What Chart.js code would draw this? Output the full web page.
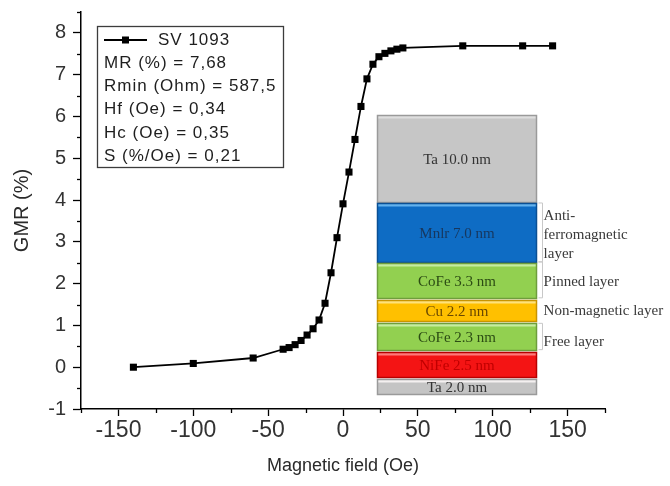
<!DOCTYPE html>
<html>
<head>
<meta charset="utf-8">
<script src="https://cdn.jsdelivr.net/npm/chart.js@4.4.1/dist/chart.umd.min.js"></script>
<style>
  html, body { margin: 0; padding: 0; background: #fff; }
  #wrap { width: 670px; height: 486px; }
</style>
</head>
<body>
<div id="wrap"><canvas id="grafikGMR" width="670" height="486"></canvas></div>
<script>
// data
const medan = [-140, -100, -60, -40, -36, -32, -28, -24, -20, -16, -12, -8, -4, 0, 4, 8, 12, 16, 20, 24, 28, 32, 36, 40, 80, 120, 140];
const gmr = [0.00, 0.09, 0.22, 0.43, 0.47, 0.54, 0.64, 0.77, 0.92, 1.13, 1.53, 2.26, 3.10, 3.91, 4.67, 5.45, 6.24, 6.90, 7.25, 7.43, 7.51, 7.57, 7.61, 7.64, 7.69, 7.69, 7.69];
const namaSeri = "SV 1093";
const statistik = ["MR (%) = 7,68", "Rmin (Ohm) = 587,5", "Hf (Oe) = 0,34", "Hc (Oe) = 0,35", "S (%/Oe) = 0,21"];
const labelX = [-150, -100, -50, 0, 50, 100, 150];
const labelY = [-1, 0, 1, 2, 3, 4, 5, 6, 7, 8];

// lapisan spin valve (gambar sisipan), dari atas ke bawah
const namaLapisan = ["Ta 10.0 nm", "Mnlr 7.0 nm", "CoFe 3.3 nm", "Cu 2.2 nm", "CoFe 2.3 nm", "NiFe 2.5 nm", "Ta 2.0 nm"];
const fungsiLapisan = [["Anti-", "ferromagnetic", "layer"], ["Pinned layer"], ["Non-magnetic layer"], ["Free layer"]];

// posisi sisipan dalam satuan sumbu (Oe, %)
const gayaLapisan = [
  { atas: 6.04, bawah: 3.95, isi: "#c6c6c6", terang: "#dedede", gelap: "#9a9a9a", teks: "#333333" },
  { atas: 3.93, bawah: 2.52, isi: "#0e6cc4", terang: "#63b2ee", gelap: "#0a4f94", teks: "#17375e" },
  { atas: 2.50, bawah: 1.66, isi: "#92d050", terang: "#c6eda0", gelap: "#6e9e3c", teks: "#2c4c14" },
  { atas: 1.62, bawah: 1.10, isi: "#ffc000", terang: "#ffe27a", gelap: "#c89400", teks: "#6a4800" },
  { atas: 1.05, bawah: 0.42, isi: "#92d050", terang: "#c6eda0", gelap: "#6e9e3c", teks: "#2c4c14" },
  { atas: 0.37, bawah: -0.23, isi: "#f41414", terang: "#ff7a7a", gelap: "#b80000", teks: "#c00000" },
  { atas: -0.29, bawah: -0.63, isi: "#c4c4c4", terang: "#f4f0f0", gelap: "#9a9a9a", teks: "#333333" }
];
const posFungsi = [[3.62, 3.17, 2.71], [2.03], [1.34], [0.60]];

// gambar sisipan lapisan
const pluginLapisan = {
  id: "lapisan",
  afterDatasetsDraw(chart) {
    const ctx = chart.ctx;
    const sx = chart.scales.x, sy = chart.scales.y;
    const kiri = Math.round(sx.getPixelForValue(23)) + 0.5;
    const kanan = Math.round(sx.getPixelForValue(128.7)) + 0.5;
    const tengah = (kiri + kanan) / 2;
    ctx.save();
    gayaLapisan.forEach((g, i) => {
      const y1 = Math.round(sy.getPixelForValue(g.atas)) + 0.5;
      const y2 = Math.round(sy.getPixelForValue(g.bawah)) + 0.5;
      ctx.fillStyle = g.isi;
      ctx.fillRect(kiri, y1, kanan - kiri, y2 - y1);
      ctx.fillStyle = g.terang;
      ctx.fillRect(kiri, y1, kanan - kiri, 3);
      ctx.strokeStyle = g.gelap;
      ctx.lineWidth = 1.5;
      ctx.strokeRect(kiri, y1, kanan - kiri, y2 - y1);
      ctx.fillStyle = g.teks;
      ctx.font = "15px 'Liberation Serif'";
      ctx.textAlign = "center";
      ctx.textBaseline = "middle";
      ctx.fillText(namaLapisan[i], tengah, (y1 + y2) / 2 + 1);
    });

    // kurung tipis di kanan tumpukan
    const xk = Math.round(sx.getPixelForValue(132.7)) + 0.5;
    const kurung = [[3.93, 2.52], [2.52, 1.66], [1.05, 0.42]];
    ctx.strokeStyle = "#c8c8c8";
    ctx.lineWidth = 1;
    kurung.forEach(k => {
      const a = sy.getPixelForValue(k[0]), b = sy.getPixelForValue(k[1]);
      ctx.beginPath();
      ctx.moveTo(xk - 4, a); ctx.lineTo(xk, a); ctx.lineTo(xk, b); ctx.lineTo(xk - 4, b);
      ctx.stroke();
    });

    ctx.fillStyle = "#3a3a3a";
    ctx.font = "15px 'Liberation Serif'";
    ctx.textAlign = "left";
    ctx.textBaseline = "middle";
    const xt = sx.getPixelForValue(134);
    fungsiLapisan.forEach((baris, i) => {
      baris.forEach((t, j) => ctx.fillText(t, xt, sy.getPixelForValue(posFungsi[i][j])));
    });
    ctx.restore();
  }
};

// kotak keterangan (legend + statistik)
const pluginKeterangan = {
  id: "keterangan",
  afterDraw(chart) {
    const ctx = chart.ctx;
    const ds = chart.data.datasets[0];
    ctx.save();
    ctx.strokeStyle = "#3c3c3c";
    ctx.lineWidth = 1.3;
    ctx.strokeRect(97.5, 26.5, 186, 141);
    // simbol seri
    ctx.strokeStyle = "#000";
    ctx.lineWidth = 1.8;
    ctx.beginPath();
    ctx.moveTo(104, 40); ctx.lineTo(147, 40);
    ctx.stroke();
    ctx.fillStyle = "#000";
    ctx.fillRect(122, 36.5, 7, 7);
    ctx.fillStyle = "#1e1e1e";
    ctx.font = "17px 'Liberation Sans'";
    ctx.letterSpacing = "1px";
    ctx.textAlign = "left";
    ctx.textBaseline = "middle";
    ctx.fillText(ds.label, 158, 40);
    statistik.forEach((s, i) => ctx.fillText(s, 104, 63 + i * 23.4));
    ctx.restore();
  }
};

// tick minor (lebih pendek)
const pluginTickMinor = {
  id: "tickMinor",
  afterDraw(chart) {
    const ctx = chart.ctx;
    const sx = chart.scales.x, sy = chart.scales.y;
    ctx.save();
    ctx.strokeStyle = "#000";
    ctx.lineWidth = 1.3;
    sx.ticks.forEach(t => {
      if (labelX.includes(t.value)) return;
      const x = Math.round(sx.getPixelForValue(t.value)) + 0.5;
      ctx.beginPath(); ctx.moveTo(x, sy.bottom); ctx.lineTo(x, sy.bottom + 4); ctx.stroke();
    });
    sy.ticks.forEach(t => {
      if (labelY.includes(t.value)) return;
      const y = Math.round(sy.getPixelForValue(t.value)) + 0.5;
      ctx.beginPath(); ctx.moveTo(sx.left, y); ctx.lineTo(sx.left - 4, y); ctx.stroke();
    });
    ctx.restore();
  }
};

const hurufJudul = { family: "'Liberation Sans', Arial, sans-serif", size: 18 };

new Chart(document.getElementById("grafikGMR").getContext("2d"), {
  type: "line",
  data: {
    datasets: [{
      label: namaSeri,
      data: medan.map((m, i) => ({ x: m, y: gmr[i] })),
      borderColor: "#000",
      backgroundColor: "#000",
      borderWidth: 1.8,
      pointStyle: "rect",
      pointRadius: 5,
      pointBorderWidth: 0,
      tension: 0
    }]
  },
  options: {
    responsive: false,
    animation: false,
    layout: { padding: { left: 0, right: 65, top: 12, bottom: 0 } },
    plugins: { legend: { display: false }, tooltip: { enabled: false } },
    scales: {
      x: {
        type: "linear",
        min: -175,
        max: 175,
        afterFit: s => { s.height = 77; s.paddingLeft = 0; s.paddingRight = 0; },
        afterBuildTicks: s => { s.ticks = []; for (let v = -175; v <= 175; v += 25) s.ticks.push({ value: v }); },
        ticks: {
          autoSkip: false,
          maxRotation: 0,
          padding: 1,
          color: "#333333",
          font: { family: "'Liberation Sans', Arial, sans-serif", size: 23 },
          callback: v => labelX.includes(v) ? String(v) : ""
        },
        grid: {
          drawOnChartArea: false,
          tickLength: 7,
          tickWidth: 1.3,
          tickColor: c => (c.tick && labelX.includes(c.tick.value)) ? "#000" : "rgba(0,0,0,0)"
        },
        border: { color: "#000", width: 1.5 },
        title: { display: true, text: "Magnetic field (Oe)", color: "#2a2a2a", font: hurufJudul, padding: { top: 0, bottom: 9 } }
      },
      y: {
        min: -1,
        max: 8.5,
        afterFit: s => { s.width = 81; s.paddingTop = 0; s.paddingBottom = 0; },
        afterBuildTicks: s => { s.ticks = []; for (let v = -1; v <= 8.5; v += 0.5) s.ticks.push({ value: v }); },
        ticks: {
          autoSkip: false,
          padding: 7,
          color: "#333333",
          font: { family: "'Liberation Sans', Arial, sans-serif", size: 20 },
          callback: v => labelY.includes(v) ? String(v) : ""
        },
        grid: {
          drawOnChartArea: false,
          tickLength: 8,
          tickWidth: 1.3,
          tickColor: c => (c.tick && labelY.includes(c.tick.value)) ? "#000" : "rgba(0,0,0,0)"
        },
        border: { color: "#000", width: 1.5 },
        title: { display: true, text: "GMR (%)", color: "#2a2a2a", font: { family: "'Liberation Sans', Arial, sans-serif", size: 20 }, padding: { top: 10, bottom: 0 } }
      }
    }
  },
  plugins: [pluginLapisan, pluginKeterangan, pluginTickMinor]
});
</script>
</body>
</html>
